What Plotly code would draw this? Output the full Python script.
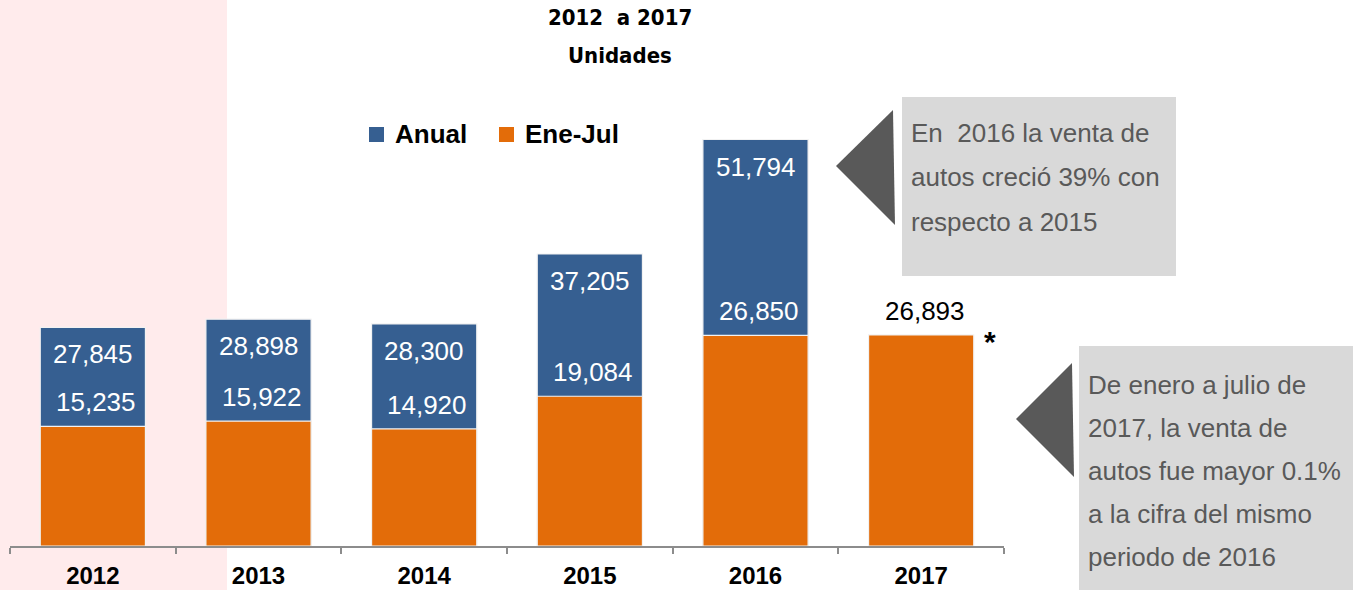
import plotly.graph_objects as go

# Venta de autos, unidades por año
years = ["2012", "2013", "2014", "2015", "2016", "2017"]
anual = [27845, 28898, 28300, 37205, 51794, None]
ene_jul = [15235, 15922, 14920, 19084, 26850, 26893]

title_lines = ["2012  a 2017", "Unidades"]
note_2016 = ["En  2016 la venta de", "autos creció 39% con", "respecto a 2015"]
note_2017 = ["De enero a julio de", "2017, la venta de", "autos fue mayor 0.1%",
             "a la cifra del mismo", "periodo de 2016"]

BLUE = "#365F91"
ORANGE = "#E36C09"
PINK = "#FFEBEC"
CALLOUT_BG = "#D9D9D9"
CALLOUT_FG = "#595959"
AXIS_GRAY = "#8C8C8C"

W, H = 1358, 590
ML, MR, MT, MB = 10, 354, 0, 44
PW, PH = W - ML - MR, H - MT - MB
PX_PER_UNIT = 0.007848
Y_MAX = PH / PX_PER_UNIT

SANS = "Liberation Sans, Arial, sans-serif"
NARROW = "DejaVu Sans Condensed, Liberation Sans Narrow, sans-serif"


def X(px):
    return (px - ML) / PW


def Y(py):
    return (MT + PH - py) / PH


def poly(points):
    return "M " + " L ".join(f"{X(a):.5f},{Y(b):.5f}" for a, b in points) + " Z"


fig = go.Figure()
fig.add_trace(go.Bar(x=years, y=anual, name="Anual", marker_color=BLUE,
                     marker_line=dict(color="#F2F2F2", width=1.2), width=0.635,
                     showlegend=False))
fig.add_trace(go.Bar(x=years, y=ene_jul, name="Ene-Jul", marker_color=ORANGE,
                     marker_line=dict(color="#F2F2F2", width=1.2), width=0.635,
                     showlegend=False))

annotations = []
# value labels (x given as category index)
for i, v in enumerate(anual):
    if v is not None:
        annotations.append(dict(x=i, y=v, xref="x", yref="y", text=f"{v:,}",
                                yshift=-27, showarrow=False,
                                font=dict(family=SANS, size=26, color="white")))
for i, (v, a) in enumerate(zip(ene_jul, anual)):
    inside = a is not None
    annotations.append(dict(x=i, y=v, xref="x", yref="y", text=f"{v:,}",
                            yshift=24, xshift=3 if inside else 4, showarrow=False,
                            font=dict(family=SANS, size=26,
                                      color="white" if inside else "black")))
# asterisk next to the 2017 bar
annotations.append(dict(x=len(years) - 1, y=ene_jul[-1], xref="x", yref="y", text="*",
                        xshift=69, yshift=-7, showarrow=False,
                        font=dict(family=SANS, size=30, color="black", weight="bold")))

# title
for txt, cy in zip(title_lines, [18, 56]):
    annotations.append(dict(x=X(620), y=Y(cy), xref="paper", yref="paper", text=txt,
                            showarrow=False, xanchor="center", yanchor="middle",
                            font=dict(family=NARROW, size=22, color="black", weight="bold")))

# legend
legend_items = [("Anual", BLUE, 369, 393), ("Ene-Jul", ORANGE, 499, 523)]
shapes = [dict(type="rect", xref="paper", yref="paper", layer="below",
               x0=X(0), x1=X(227), y0=Y(H), y1=Y(0), fillcolor=PINK, line_width=0)]
for label, col, sx, tx in legend_items:
    shapes.append(dict(type="rect", xref="paper", yref="paper",
                       x0=X(sx), x1=X(sx + 15), y0=Y(142), y1=Y(127),
                       fillcolor=col, line_width=0))
    annotations.append(dict(x=X(tx), y=Y(134), xref="paper", yref="paper", text=label,
                            showarrow=False, xanchor="left", yanchor="middle",
                            font=dict(family=SANS, size=26, color="black", weight="bold")))

# callout boxes with pointers
shapes.append(dict(type="rect", xref="paper", yref="paper",
                   x0=X(902), x1=X(1176), y0=Y(276), y1=Y(97),
                   fillcolor=CALLOUT_BG, line_width=0))
shapes.append(dict(type="path", xref="paper", yref="paper",
                   path=poly([(836, 166), (893, 110), (895, 225)]),
                   fillcolor=CALLOUT_FG, line_width=0))
shapes.append(dict(type="rect", xref="paper", yref="paper",
                   x0=X(1079), x1=X(1353), y0=Y(H), y1=Y(346),
                   fillcolor=CALLOUT_BG, line_width=0))
shapes.append(dict(type="path", xref="paper", yref="paper",
                   path=poly([(1016, 419), (1072, 363), (1074, 477)]),
                   fillcolor=CALLOUT_FG, line_width=0))

for i, line in enumerate(note_2016):
    annotations.append(dict(x=X(909), y=Y(133 + 44.5 * i), xref="paper", yref="paper",
                            text=line, showarrow=False, xanchor="left", yanchor="middle",
                            font=dict(family=SANS, size=26, color=CALLOUT_FG)))
for i, line in enumerate(note_2017):
    annotations.append(dict(x=X(1086), y=Y(385 + 43.1 * i), xref="paper", yref="paper",
                            text=line, showarrow=False, xanchor="left", yanchor="middle",
                            font=dict(family=SANS, size=26, color=CALLOUT_FG)))

fig.update_layout(
    width=W, height=H,
    margin=dict(l=ML, r=MR, t=MT, b=MB, pad=0, autoexpand=False),
    barmode="overlay",
    plot_bgcolor="rgba(0,0,0,0)",
    paper_bgcolor="white",
    showlegend=False,
    shapes=shapes,
    annotations=annotations,
    xaxis=dict(type="category", range=[-0.5, len(years) - 0.5], automargin=False,
               showline=True, linecolor=AXIS_GRAY, linewidth=1.5,
               ticks="outside", tickson="boundaries", ticklen=6, tickcolor=AXIS_GRAY,
               tickwidth=1.5, showgrid=False, zeroline=False, tickangle=0,
               ticklabelstandoff=7,
               tickfont=dict(family=SANS, size=24, color="black", weight="bold")),
    yaxis=dict(range=[0, Y_MAX], visible=False, showgrid=False, zeroline=False,
               automargin=False),
)

fig.write_html("out.html")
